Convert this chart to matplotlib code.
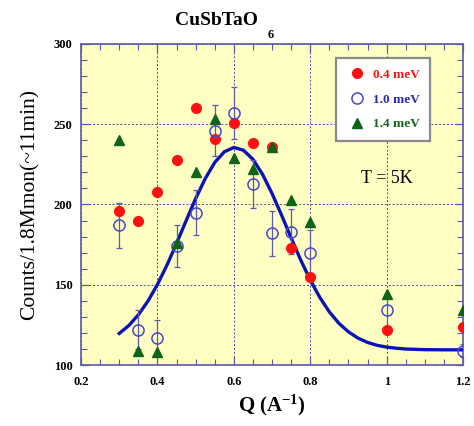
import matplotlib
matplotlib.use('Agg')
import matplotlib.pyplot as plt
from matplotlib.ticker import MultipleLocator, FuncFormatter

# Valores
q = [0.3, 0.35, 0.4, 0.45, 0.5, 0.55, 0.6, 0.65, 0.7, 0.75, 0.8, 1.0, 1.2]
cnt_04 = [196, 190, 208, 228, 260, 241, 251, 238, 236, 173, 155, 122, 124]
cnt_10 = [187, 122, 117, 174, 195, 246, 257, 213, 182, 183, 170, 134, 109]
err_10 = [14, 12, 11, 13, 14, 16, 16, 15, 14, 14, 14, 10, 4]
cnt_14 = [240, 109, 108, 176, 220, 253, 229, 222, 236, 203, 189, 144, 134]

# Curva de ajuste
q_fit = [0.3, 0.325, 0.35, 0.375, 0.4, 0.425, 0.45, 0.475, 0.5, 0.525, 0.55, 0.575,
         0.6, 0.625, 0.65, 0.675, 0.7, 0.725, 0.75, 0.775, 0.8, 0.825, 0.85, 0.875,
         0.9, 0.925, 0.95, 0.975, 1.0, 1.025, 1.05, 1.075, 1.1, 1.15, 1.2]
cnt_fit = [119.7, 124.6, 131.3, 139.8, 150.2, 162.3, 175.8, 189.9, 203.7, 216.1, 226.2, 232.8,
           235.5, 233.8, 228.1, 218.8, 206.8, 193.3, 179.1, 165.4, 152.9, 142.1, 133.1, 126.0,
           120.7, 116.8, 114.1, 112.3, 111.2, 110.5, 110.0, 109.8, 109.6, 109.5, 109.5]

serif = 'Liberation Serif'
azul_eje = '#5a5aa8'

plt.rcParams['mathtext.fontset'] = 'custom'
plt.rcParams['mathtext.rm'] = 'Liberation Serif:bold'
plt.rcParams['mathtext.bf'] = 'Liberation Serif:bold'
plt.rcParams['mathtext.default'] = 'rm'

fig = plt.figure(figsize=(4.74, 4.26), dpi=100)
ax = fig.add_axes([0.171, 0.143, 0.806, 0.754])
ax.set_facecolor('#ffffc4')

ax.plot(q_fit, cnt_fit, color='#0a14b4', lw=2.4, zorder=3)
ax.errorbar(q, cnt_10, yerr=err_10, fmt='none', ecolor='#5a5ab4', elinewidth=0.9,
            capsize=2.5, capthick=0.9, zorder=4)
ax.plot(q, cnt_04, 'o', color='#ff1010', ms=7, ls='none', label='0.4 meV', zorder=5)
ax.plot(q, cnt_10, 'o', mfc='none', mec='#4848c8', mew=1.1, ms=8, ls='none',
        label='1.0 meV', zorder=6)
ax.plot(q, cnt_14, '^', color='#0e6418', ms=6.5, ls='none', label='1.4 meV', zorder=7)

ax.set_xlim(0.2, 1.2)
ax.set_ylim(100, 300)
ax.xaxis.set_major_locator(MultipleLocator(0.2))
ax.xaxis.set_minor_locator(MultipleLocator(0.05))
ax.yaxis.set_major_locator(MultipleLocator(50))
ax.yaxis.set_minor_locator(MultipleLocator(10))
ax.xaxis.set_major_formatter(FuncFormatter(lambda v, _: f'{v:g}'))

ax.tick_params(which='both', direction='in', top=True, right=True, color=azul_eje)
ax.tick_params(which='major', length=6, width=0.9)
ax.tick_params(which='minor', length=4, width=0.8)
for lab in ax.get_xticklabels() + ax.get_yticklabels():
    lab.set_fontfamily(serif)
    lab.set_fontweight('bold')
    lab.set_fontsize(9)
ax.tick_params(axis='x', pad=8)
ax.tick_params(axis='y', pad=6)
for s in ax.spines.values():
    s.set_color(azul_eje)
    s.set_linewidth(1.2)

ax.grid(True, which='major', color='#4a4aa0', ls=(0, (2, 2)), lw=0.7)
ax.set_axisbelow(True)

leg = ax.legend(loc='upper left', bbox_to_anchor=(0.667, 0.956), borderaxespad=0,
                frameon=True, fancybox=False, edgecolor='#8a8a8a', facecolor='white',
                framealpha=1, labelcolor=['#ff1010', '#2828b0', '#0e6418'],
                prop={'family': serif, 'weight': 'bold', 'size': 9.5},
                handletextpad=0.4, borderpad=0.8, labelspacing=0.95, handlelength=1.6)
leg.get_frame().set_linewidth(1.6)

ax.text(1.0, 216, 'T = 5K', family=serif, fontsize=13, ha='center', va='center')

fig.text(0.456, 0.951, 'CuSbTaO', family=serif, fontweight='bold', fontsize=14,
         ha='center', va='center')
fig.text(0.572, 0.918, '6', family=serif, fontweight='bold', fontsize=9,
         ha='center', va='center')

ax.set_ylabel('Counts/1.8Mmon(~11min)', family=serif, fontsize=15.5, labelpad=10)
ax.set_xlabel('Q (A$^{-1}$)', family=serif, fontweight='bold', fontsize=15, labelpad=3)

fig.savefig('out.png', dpi=100)
